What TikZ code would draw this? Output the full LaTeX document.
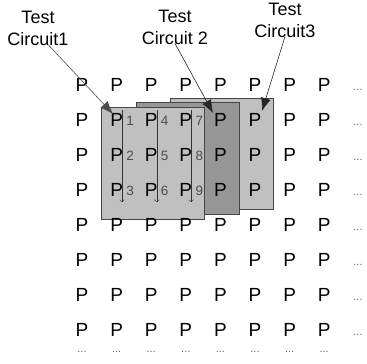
\documentclass[tikz,border=0pt]{standalone}
\usepackage{fontspec}
\setmainfont{Liberation Sans}
\usepackage{tikz}
\usepackage{xcolor}
\usetikzlibrary{shapes.geometric, arrows, arrows.meta, positioning, calc}

\definecolor{sheetlight}{RGB}{192,192,192}
\definecolor{sheetdark}{RGB}{150,150,150}
\definecolor{sheetedge}{RGB}{70,70,70}

\tikzset{
    pin/.style={inner sep=0pt, font=\fontsize{19}{19}\selectfont},
    idx/.style={inner sep=0pt, text=black!70, font=\fontsize{13.5}{13.5}\selectfont},
    more/.style={inner sep=0pt, text=black!60, font=\fontsize{11}{11}\selectfont},
    title/.style={inner sep=1pt, align=center, font=\fontsize{18}{22}\selectfont},
    sheet/.style={draw=sheetedge, line width=0.8pt},
    callout/.style={-{Latex[length=13pt, width=10pt]}, line width=0.6pt}
}

\begin{document}
\begin{tikzpicture}[x=1pt, y=-1pt]
    \useasboundingbox (0,0) rectangle (367,364);

    % stacked test circuits
    \draw[sheet, fill=sheetlight] (170,98) rectangle (273,209);
    \draw[sheet, fill=sheetdark] (136,102) rectangle (239,214);
    \draw[sheet, fill=sheetlight] (101,107) rectangle (204,219);

    % grid of P's
    \foreach \r in {1,...,8} {
        \foreach \c in {1,...,8} {
            \node[pin] (p-\r-\c) at ({82+34.6*(\c-1)}, {85+35*(\r-1)}) {P};
        }
        \node[more] (dr-\r) at (358, {90+35*(\r-1)}) {...};
    }
    \foreach \c in {1,...,8}
        \node[more] (db-\c) at ({82+34.6*(\c-1)}, 352) {...};

    % scan order inside circuit 1
    \foreach \c [count=\i from 0] in {2,3,4} {
        \foreach \r [count=\j from 1] in {2,3,4} {
            \pgfmathtruncatemacro{\k}{3*\i+\j}
            \node[idx, right=3pt of p-\r-\c.east, yshift=-1pt] (n-\k) {\k};
        }
        \coordinate (top-\c) at ($(p-2-\c)+(5.5,-10)$);
        \coordinate (bot-\c) at ($(p-4-\c)+(5.5,12)$);
        \draw[->, black!80] (top-\c) -- (bot-\c);
    }

    % labels
    \node[title] (tc1) at (38,28) {Test\\Circuit1};
    \node[title] (tc2) at (175,27) {Test\\Circuit 2};
    \node[title] (tc3) at (285,20) {Test\\Circuit3};

    \coordinate (tip1) at (113,114);
    \coordinate (tip2) at (213,113);
    \coordinate (tip3) at (262,111);

    \draw[callout, black!70] (tc1.south) ++(10,-2) -- (tip1);
    \draw[callout, black!85] (tc2.south) ++(0,-2) -- (tip2);
    \draw[callout, black!85] (tc3.south) ++(0,-2) -- (tip3);
\end{tikzpicture}
\end{document}
